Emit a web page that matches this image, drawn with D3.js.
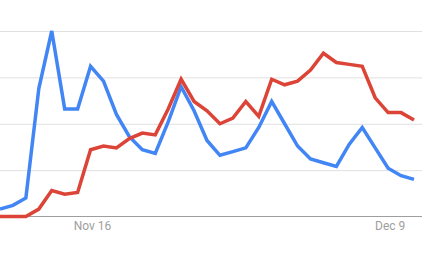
<!DOCTYPE html>
<html lang='en'>
  <head>
    <meta charset='utf-8'>
    <script src='https://cdnjs.cloudflare.com/ajax/libs/d3/7.8.5/d3.min.js'></script>
    <style>
      body { margin: 0; background: #fff; }
      svg { display: block; }
      .grid line { stroke: #e0e0e0; }
      .grid .domain { display: none; }
      .xAxis .domain { stroke: #9e9e9e; }
      .xAxis text { fill: #9e9e9e; font-family: Roboto, sans-serif; font-size: 12px; }
    </style>
  </head>
  <body>
    <div id='chart'></div>
    <script>
      // daily values, Nov 9 .. Dec 11
      var startDay = new Date(2019, 10, 9);
      var blueValues = [4, 6, 10, 69, 100, 58, 58, 81, 73, 55, 43, 36, 34, 51, 70, 57, 41,
                        33, 35, 37, 48, 62, 50, 38, 31, 29, 27, 39, 48, 37, 26, 22, 20];
      var redValues = [0, 0, 0, 4, 14, 12, 13, 36, 38, 37, 42, 45, 44, 58, 74, 62, 57,
                       50, 53, 62, 54, 74, 71, 73, 79, 88, 83, 82, 81, 64, 56, 56, 52];
      var gridTicks = [25, 50, 75, 100];
      var tickDays = [new Date(2019, 10, 16), new Date(2019, 11, 9)];
      var tickLabels = ['Nov 16', 'Dec 9'];

      var width = 432;
      var height = 260;
      var plotRight = 422;
      var lineRight = 414;
      var yTop = 31;
      var yBottom = 216.5;

      var days = blueValues.map(function(d, i) { return d3.timeDay.offset(startDay, i); });

      var svg = d3.select('#chart').append('svg')
                  .attr('width', width)
                  .attr('height', height);

      var xScale = d3.scaleTime()
                     .domain([days[0], days[days.length - 1]])
                     .range([0, lineRight]);

      var yScale = d3.scaleLinear()
                     .domain([0, 100])
                     .range([yBottom, yTop]);

      // gridlines
      svg.append('g')
         .attr('class', 'grid')
         .call(d3.axisLeft(yScale)
                 .tickValues(gridTicks)
                 .tickSize(-plotRight)
                 .tickFormat(''));

      // x axis
      var xAxis = svg.append('g')
         .attr('class', 'xAxis')
         .attr('transform', 'translate(0,' + yBottom + ')')
         .call(d3.axisBottom(xScale)
                 .tickValues(tickDays)
                 .tickSize(0)
                 .tickPadding(0)
                 .tickFormat(function(d, i) { return tickLabels[i]; }));
      xAxis.select('.domain').attr('d', 'M0,0H' + plotRight);
      xAxis.selectAll('text')
           .attr('dy', null)
           .attr('y', 13.5)
           .attr('dx', 1.5);

      var line = d3.line()
                   .x(function(d, i) { return xScale(days[i]); })
                   .y(function(d) { return yScale(d); });

      svg.append('path')
         .datum(blueValues)
         .attr('fill', 'none')
         .attr('stroke', '#4285f4')
         .attr('stroke-width', 3.5)
         .attr('d', line);

      svg.append('path')
         .datum(redValues)
         .attr('fill', 'none')
         .attr('stroke', '#db4437')
         .attr('stroke-width', 3.5)
         .attr('d', line);
    </script>
  </body>
</html>
